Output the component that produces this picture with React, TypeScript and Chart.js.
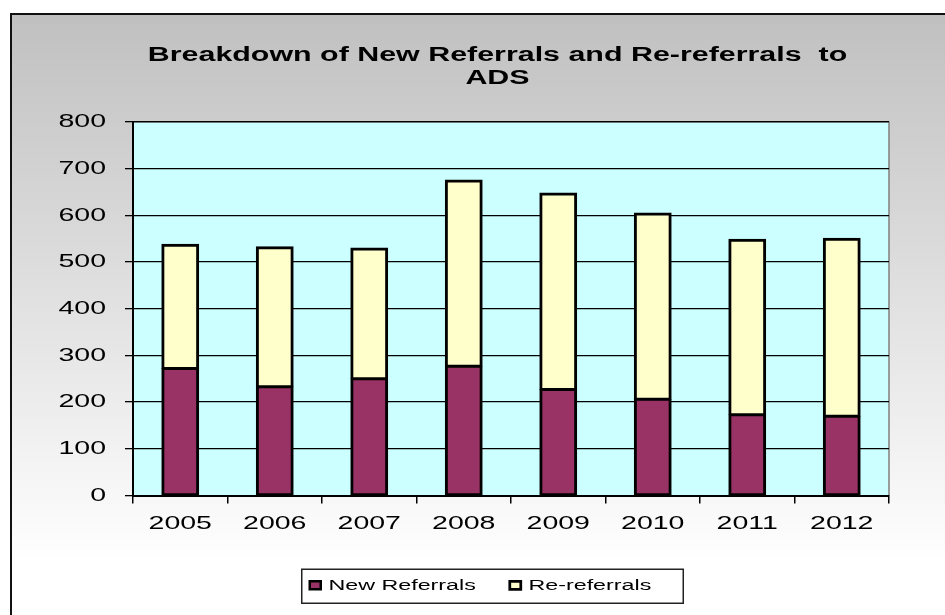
import React, { useEffect, useRef } from "react";
import { Chart, registerables } from "chart.js";

Chart.register(...registerables);

const categories = ["2005", "2006", "2007", "2008", "2009", "2010", "2011", "2012"];
const newReferrals = [272, 233, 250, 277, 227, 206, 173, 170];
const reReferrals = [266, 300, 280, 399, 421, 399, 376, 381];
const seriesNames = ["New Referrals", "Re-referrals"];
const titleLines = ["Breakdown of New Referrals and Re-referrals  to", "ADS"];
const yMin = 0;
const yMax = 800;
const yStep = 100;

const FONT = "'Liberation Sans', Arial, sans-serif";

// Draw text horizontally stretched (the reference screenshot has wide glyphs)
function wrapStretch(chart: any, obj: any, key: string, sx: number) {
  if (!obj || !obj[key] || obj["__w_" + key]) return;
  const orig = obj[key];
  obj[key] = function (...args: any[]) {
    const ctx = chart.ctx;
    const proto = Object.getPrototypeOf(ctx);
    const f = proto.fillText;
    const m = proto.measureText;
    ctx.fillText = function (t: string, x: number, y: number) {
      this.save();
      this.translate(x, y);
      this.scale(sx, 1);
      f.call(this, t, 0, 0);
      this.restore();
    };
    ctx.measureText = function (t: string) {
      const r = m.call(this, t);
      return {
        width: r.width * sx,
        actualBoundingBoxLeft: r.actualBoundingBoxLeft * sx,
        actualBoundingBoxRight: r.actualBoundingBoxRight * sx,
        actualBoundingBoxAscent: r.actualBoundingBoxAscent,
        actualBoundingBoxDescent: r.actualBoundingBoxDescent,
      };
    };
    try {
      return orig.apply(this, args);
    } finally {
      delete ctx.fillText;
      delete ctx.measureText;
    }
  };
  obj["__w_" + key] = true;
}

const stretchPlugin = {
  id: "stretchPlugin",
  afterInit(chart: any) {
    wrapStretch(chart, chart.titleBlock, "draw", 1.52);
    wrapStretch(chart, chart.legend, "fit", 1.5);
    wrapStretch(chart, chart.legend, "draw", 1.5);
  },
  afterLayout(chart: any) {
    Object.values(chart.scales).forEach((s: any) => wrapStretch(chart, s, "drawLabels", 1.5));
    if (chart.legend) {
      chart.legend.left -= 17;
      chart.legend.right -= 17;
    }
  },
};

const bgPlugin = {
  id: "bgPlugin",
  beforeDraw(chart: any) {
    const { ctx, width, height, chartArea } = chart;
    ctx.save();
    ctx.fillStyle = "#ffffff";
    ctx.fillRect(0, 0, width, height);
    const g = ctx.createLinearGradient(0, 14, 0, 565);
    g.addColorStop(0, "#c0c0c0");
    g.addColorStop(1, "#ffffff");
    ctx.fillStyle = g;
    ctx.fillRect(11, 14, width - 11, height - 14);
    ctx.strokeStyle = "#111111";
    ctx.lineWidth = 2;
    ctx.beginPath();
    ctx.moveTo(11, height);
    ctx.lineTo(11, 14);
    ctx.lineTo(width, 14);
    ctx.stroke();
    ctx.fillStyle = "#ccffff";
    ctx.fillRect(chartArea.left, chartArea.top, chartArea.right - chartArea.left, chartArea.bottom - chartArea.top);
    ctx.strokeStyle = "#808080";
    ctx.lineWidth = 1.5;
    ctx.beginPath();
    ctx.moveTo(chartArea.left, chartArea.top);
    ctx.lineTo(chartArea.right, chartArea.top);
    ctx.lineTo(chartArea.right, chartArea.bottom);
    ctx.stroke();
    // legend frame
    const lg = chart.legend;
    if (lg && lg.legendHitBoxes && lg.legendHitBoxes.length) {
      const hb = lg.legendHitBoxes;
      const first = hb[0];
      const last = hb[hb.length - 1];
      const cy = first.top + first.height / 2;
      const l = first.left - 8;
      const r = last.left + last.width + 32;
      ctx.fillStyle = "#ffffff";
      ctx.fillRect(l, cy - 16, r - l, 34);
      ctx.strokeStyle = "#222222";
      ctx.lineWidth = 1.5;
      ctx.strokeRect(l, cy - 16, r - l, 34);
    }
    ctx.restore();
  },
};

export default function App() {
  const ref = useRef<HTMLCanvasElement | null>(null);
  useEffect(() => {
    if (!ref.current) return;
    const chart = new Chart(ref.current, {
      type: "bar",
      data: {
        labels: categories,
        datasets: [
          {
            label: seriesNames[0],
            data: newReferrals,
            backgroundColor: "#993366",
            borderColor: "#000000",
            borderWidth: { top: 2, left: 3, right: 3, bottom: 2 },
            borderSkipped: false,
            inflateAmount: 0.5,
            barPercentage: 0.39,
            categoryPercentage: 1,
          },
          {
            label: seriesNames[1],
            data: reReferrals,
            backgroundColor: "#ffffcc",
            borderColor: "#000000",
            borderWidth: { top: 3, left: 3, right: 3, bottom: 2 },
            borderSkipped: false,
            inflateAmount: 0.5,
            barPercentage: 0.39,
            categoryPercentage: 1,
          },
        ],
      },
      options: {
        responsive: false,
        animation: false,
        devicePixelRatio: 1,
        layout: { padding: { left: 50, right: 0, top: 0, bottom: 12 } },
        plugins: {
          title: {
            display: true,
            text: titleLines,
            color: "#000000",
            font: { family: FONT, size: 20, weight: "bold", lineHeight: 1.15 },
            padding: { top: 44, bottom: 32 },
          },
          legend: {
            display: true,
            position: "bottom",
            labels: {
              color: "#000000",
              font: { family: FONT, size: 15.5 },
              boxWidth: 11,
              boxHeight: 8,
              padding: 34,
            },
          },
          tooltip: { enabled: false },
        },
        scales: {
          x: {
            stacked: true,
            grid: {
              display: true,
              drawOnChartArea: false,
              drawTicks: true,
              tickLength: 8,
              color: "#000000",
              lineWidth: 1.5,
              offset: true,
            },
            border: { display: true, color: "#000000", width: 2 },
            ticks: {
              color: "#000000",
              font: { family: FONT, size: 19 },
              padding: 9,
              maxRotation: 0,
            },
            afterFit(s: any) {
              s.height = 48;
            },
          },
          y: {
            stacked: true,
            min: yMin,
            max: yMax,
            grid: {
              display: true,
              color: "#000000",
              lineWidth: 1.3,
              drawTicks: true,
              tickLength: 8,
            },
            border: { display: true, color: "#000000", width: 2 },
            ticks: {
              stepSize: yStep,
              color: "#000000",
              font: { family: FONT, size: 19 },
              padding: 19,
            },
            afterFit(s: any) {
              s.width = 83;
            },
          },
          y2: {
            type: "linear",
            position: "right",
            display: true,
            grid: { display: false, drawTicks: false },
            border: { display: false },
            ticks: { display: false },
            afterFit(s: any) {
              s.width = 56;
            },
          },
        },
      },
      plugins: [stretchPlugin, bgPlugin],
    } as any);
    return () => chart.destroy();
  }, []);
  return (
    <div style={{ position: "fixed", left: 0, top: 0, width: 945, height: 615 }}>
      <canvas ref={ref} width={945} height={615} style={{ display: "block", width: 945, height: 615 }} />
    </div>
  );
}
